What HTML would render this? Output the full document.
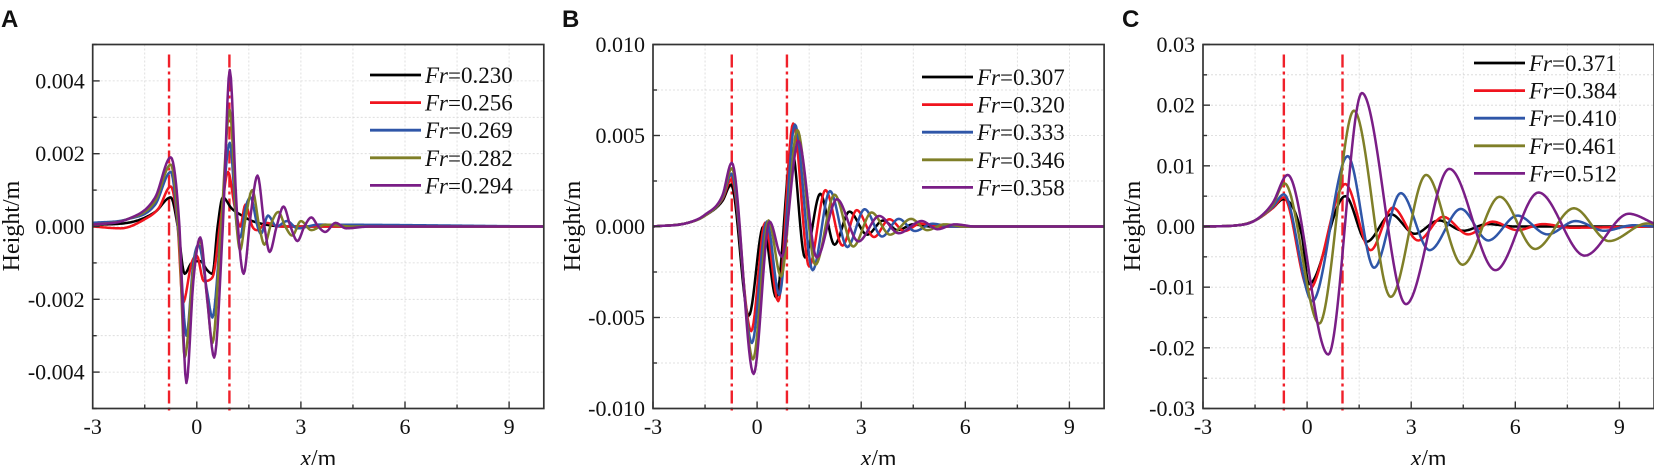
<!DOCTYPE html>
<html><head><meta charset="utf-8">
<style>
html,body{margin:0;padding:0;background:#fff;}
svg{display:block;}
text{font-family:"Liberation Serif",serif;fill:#111;}
.pl{font-family:"Liberation Sans",sans-serif;font-weight:bold;font-size:24px;}
</style></head>
<body>
<svg id="chart" width="1654" height="465" viewBox="0 0 1654 465"></svg>
<script>
// x-axis ticks
const xTickVals = [-3, 0, 3, 6, 9];
// Panel A (values in units of 0.001 m)
const A_fr = ["0.230", "0.256", "0.269", "0.282", "0.294"];
const A_yTicks = ["0.004", "0.002", "0.000", "-0.002", "-0.004"];
const A_black = [[-3,0.05],[-2,0.1],[-1.2,0.4],[-0.75,0.8],[-0.55,0],[-0.35,-1.3],[-0.15,-1.0],[0.1,-0.95],[0.3,-1.2],[0.45,-1.3],[0.6,0],[0.75,0.8],[1.0,0.5],[1.3,0.3],[1.6,0.15],[2,0.05],[2.5,0],[10,0]];
const A_red = [[-3,0],[-2.2,-0.05],[-1.5,0.2],[-1.1,0.5],[-0.75,1.1],[-0.55,0],[-0.4,-2.1],[-0.15,-1],[0,-0.8],[0.2,-1.5],[0.45,-1.4],[0.7,0.3],[0.9,1.5],[1.1,0.5],[1.25,0],[1.4,0.6],[1.6,0],[1.75,-0.1],[2.0,0.1],[2.4,0],[10,0]];
const A_blue = [[-3,0.1],[-2,0.2],[-1.2,0.6],[-0.75,1.5],[-0.5,-0.5],[-0.3,-3.0],[-0.1,-1.0],[0.05,-0.5],[0.3,-1.8],[0.45,-2.5],[0.7,0],[0.95,2.3],[1.15,0],[1.25,-0.3],[1.4,0.5],[1.55,0.8],[1.75,0],[1.85,-0.2],[2.05,0.3],[2.3,0],[2.6,0.15],[2.9,-0.05],[3.5,0.05],[10,0]];
const A_olive = [[-3,0.05],[-2,0.2],[-1.2,0.7],[-0.75,1.7],[-0.5,-0.5],[-0.35,-3.6],[-0.1,-1.2],[0.1,-0.4],[0.3,-2],[0.45,-3.2],[0.7,0],[0.95,3.2],[1.15,0],[1.25,-0.65],[1.4,0.2],[1.6,1.0],[1.8,0],[1.95,-0.5],[2.15,0.1],[2.35,0.4],[2.55,0],[2.75,-0.25],[3.0,0.15],[3.3,-0.1],[3.7,0.05],[4.5,0],[10,0]];
const A_purple = [[-3,0.05],[-2,0.2],[-1.2,0.8],[-0.75,1.9],[-0.5,0],[-0.3,-4.3],[-0.1,-1.5],[0.1,-0.3],[0.3,-2],[0.5,-3.6],[0.75,0],[0.95,4.3],[1.15,0.5],[1.35,-1.3],[1.55,0.3],[1.75,1.4],[1.95,0],[2.1,-0.7],[2.3,0],[2.5,0.55],[2.7,0],[2.9,-0.4],[3.1,0],[3.3,0.25],[3.5,0],[3.7,-0.15],[4.0,0.1],[4.3,-0.05],[5,0],[10,0]];
// Panel B (units of 0.001 m)
const B_fr = ["0.307", "0.320", "0.333", "0.346", "0.358"];
const B_yTicks = ["0.010", "0.005", "0.000", "-0.005", "-0.010"];
const B_black = [[-3,0],[-2,0.2],[-1.5,0.6],[-1,1.4],[-0.75,2.3],[-0.24,-4.9],[0.18,0],[0.55,-3.9],[1.0,4.3],[1.38,-1.7],[1.82,1.8],[2.23,-1.0],[2.66,0.82],[3.17,-0.45],[3.63,0.33],[4.05,-0.2],[4.5,0.12],[5,0],[10,0]];
const B_red = [[-3,0],[-2,0.2],[-1.5,0.6],[-1,1.5],[-0.74,2.6],[-0.17,-5.75],[0.23,0.2],[0.61,-4.1],[1.04,5.66],[1.5,-2.2],[1.97,2.0],[2.46,-1.05],[2.87,0.9],[3.37,-0.58],[3.81,0.4],[4.25,-0.25],[4.7,0.15],[5.3,0],[10,0]];
const B_blue = [[-3,0],[-2,0.2],[-1.5,0.6],[-1,1.55],[-0.74,2.9],[-0.15,-6.4],[0.28,0.27],[0.64,-3.75],[1.09,5.6],[1.6,-2.4],[2.1,1.95],[2.6,-1.13],[3.1,0.95],[3.6,-0.55],[4.08,0.42],[4.55,-0.25],[5.05,0.15],[5.6,0],[10,0]];
const B_olive = [[-3,0],[-2,0.2],[-1.5,0.6],[-1,1.6],[-0.73,3.2],[-0.12,-7.3],[0.33,0.33],[0.69,-2.75],[1.16,5.3],[1.68,-2.1],[2.23,1.75],[2.77,-1.1],[3.3,0.77],[3.83,-0.45],[4.44,0.42],[4.9,-0.2],[5.4,0.12],[6,0],[10,0]];
const B_purple = [[-3,0],[-2,0.2],[-1.5,0.65],[-1,1.7],[-0.73,3.5],[-0.1,-8.1],[0.36,0.27],[0.71,-1.65],[1.19,4.7],[1.72,-1.7],[2.3,1.5],[2.92,-0.82],[3.52,0.58],[4.08,-0.37],[4.74,0.3],[5.2,-0.15],[5.7,0.12],[6.3,0],[10,0]];
// Panel C (units of 0.01 m)
const C_fr = ["0.371", "0.384", "0.410", "0.461", "0.512"];
const C_yTicks = ["0.03", "0.02", "0.01", "0.00", "-0.01", "-0.02", "-0.03"];
const C_black = [[-3,0],[-2,0.02],[-1.5,0.1],[-1,0.3],[-0.68,0.45],[-0.15,-0.15],[0.05,-0.95],[1.1,0.5],[1.72,-0.25],[2.42,0.2],[3.1,-0.12],[3.8,0.1],[4.5,-0.07],[5.2,0.04],[6,0],[10,0]];
const C_red = [[-3,0],[-2,0.02],[-1.5,0.1],[-1,0.3],[-0.67,0.48],[0.05,-1.04],[1.1,0.7],[1.83,-0.39],[2.47,0.31],[3.2,-0.23],[3.92,0.16],[4.64,-0.13],[5.35,0.08],[6.06,-0.06],[6.8,0.04],[7.6,-0.02],[10,0]];
const C_blue = [[-3,0],[-2,0.02],[-1.5,0.1],[-1,0.32],[-0.67,0.53],[0.15,-1.23],[1.17,1.16],[1.93,-0.68],[2.7,0.55],[3.53,-0.39],[4.43,0.29],[5.22,-0.23],[6.06,0.18],[6.93,-0.13],[7.74,0.09],[8.56,-0.07],[9.4,0.02],[10,0]];
const C_olive = [[-3,0],[-2,0.02],[-1.5,0.1],[-1,0.35],[-0.65,0.71],[0.35,-1.6],[1.35,1.91],[2.41,-1.16],[3.43,0.85],[4.48,-0.63],[5.55,0.49],[6.57,-0.37],[7.69,0.3],[8.7,-0.24],[9.8,0.05],[10,0.04]];
const C_purple = [[-3,0],[-2,0.02],[-1.5,0.1],[-1,0.38],[-0.56,0.85],[0.61,-2.11],[1.58,2.2],[2.85,-1.28],[4.1,0.95],[5.43,-0.72],[6.67,0.56],[8.0,-0.48],[9.27,0.21],[10,0.05]];
// vertical reference lines (x positions, m)
const A_refs = [-0.8, 0.94];
const B_refs = [-0.73, 0.86];
const C_refs = [-0.67, 1.02];

const colors = ["#000000", "#f0141e", "#2f56a8", "#7f7f28", "#7a1e86"];
const NS = "http://www.w3.org/2000/svg";
const svg = document.getElementById("chart");
const SERIF = '"Liberation Serif", serif';

function mk(tag, attrs, parent) {
  const e = document.createElementNS(NS, tag);
  for (const k in attrs) e.setAttribute(k, attrs[k]);
  (parent || svg).appendChild(e);
  return e;
}

function monotonePath(pts, sx, sy) {
  const n = pts.length, d = [], m = [];
  for (let i = 0; i < n - 1; i++) d.push((pts[i+1][1]-pts[i][1])/(pts[i+1][0]-pts[i][0]));
  for (let i = 0; i < n; i++) {
    if (i === 0) m.push(d[0]); else if (i === n-1) m.push(d[n-2]);
    else if (d[i-1]*d[i] <= 0) m.push(0); else m.push((d[i-1]+d[i])/2);
  }
  for (let i = 0; i < n-1; i++) {
    if (d[i] === 0) { m[i] = 0; m[i+1] = 0; continue; }
    const a = m[i]/d[i], b = m[i+1]/d[i], s = a*a + b*b;
    if (s > 9) { const t = 3/Math.sqrt(s); m[i] = t*a*d[i]; m[i+1] = t*b*d[i]; }
  }
  let p = "M" + sx(pts[0][0]).toFixed(2) + "," + sy(pts[0][1]).toFixed(2);
  for (let i = 0; i < n-1; i++) {
    const x0 = pts[i][0], x1 = pts[i+1][0], h = x1 - x0, y0 = pts[i][1], y1 = pts[i+1][1];
    const steps = Math.max(6, Math.ceil(h*30));
    for (let k = 1; k <= steps; k++) {
      const t = k/steps, t2 = t*t, t3 = t2*t;
      const y = (2*t3-3*t2+1)*y0 + (t3-2*t2+t)*h*m[i] + (-2*t3+3*t2)*y1 + (t3-t2)*h*m[i+1];
      p += "L" + sx(x0 + t*h).toFixed(2) + "," + sy(y).toFixed(2);
    }
  }
  return p;
}

const TOP = 44.5, BOT = 408.5, UNIT = 34.7;

function panel(cfg) {
  const g = mk("g", {});
  
  
  const L = cfg.left, R = L + 13*UNIT;
  const sx = x => L + (x + 3)*UNIT;
  const sy = v => BOT - (v*cfg.scale - cfg.yMin)/(cfg.yMax - cfg.yMin)*(BOT - TOP);
  const syr = v => BOT - (v - cfg.yMin)/(cfg.yMax - cfg.yMin)*(BOT - TOP);
  for (let x = -1.5; x < 10; x += 1.5) {
    const gl = mk("line", {x1:sx(x), x2:sx(x), y1:TOP, y2:BOT, stroke:"#d8d8d8", "stroke-width":0.8, "stroke-dasharray":"2,2"}, g);
    
    
  }
  for (let v = cfg.yMin + cfg.minor; v < cfg.yMax - 1e-9; v += cfg.minor) {
    const gl = mk("line", {x1:L, x2:R, y1:syr(v), y2:syr(v), stroke:"#d8d8d8", "stroke-width":0.8, "stroke-dasharray":"2,2"}, g);
    
    
  }
  cfg.refs.forEach(r => {
    const rl = mk("line", {x1:sx(r), x2:sx(r), y1:TOP+10, y2:BOT+4, stroke:"#f0202a", "stroke-width":2.4, "stroke-dasharray":"13,4,3,4"}, g);
    
    
  });
  const cp = "clip-" + cfg.name;
  const cpe = mk("clipPath", {id: cp}, g);
  mk("rect", {x:L, y:TOP, width:R-L, height:BOT-TOP}, cpe);
  cfg.series.forEach((s, i) => {
    const path = mk("path", {d: monotonePath(s, sx, sy), fill:"none", stroke:colors[i], "stroke-width":2.5, "stroke-linejoin":"round", "clip-path":"url(#"+cp+")"}, g);
    
    
  });
  const fr = mk("rect", {x:L, y:TOP, width:R-L, height:BOT-TOP, fill:"none", stroke:"#333", "stroke-width":1.7}, g);
  
  
  for (let x = -3; x <= 10; x += 1.5) {
    const major = xTickVals.includes(x);
    mk("line", {x1:sx(x), x2:sx(x), y1:BOT, y2:BOT-(major?7:4), stroke:"#333", "stroke-width":1.4}, g);
  }
  xTickVals.forEach(x => {
    const t = mk("text", {x:sx(x), y:434, "font-size":22, "font-family":SERIF, "text-anchor":"middle"}, g);
    t.textContent = String(x);
    
    
  });
  for (let v = cfg.yMin; v <= cfg.yMax + 1e-9; v += cfg.minor) {
    const isMajor = Math.abs(Math.round(v/cfg.major)*cfg.major - v) < 1e-9;
    mk("line", {x1:L, x2:L+(isMajor?7:4), y1:syr(v), y2:syr(v), stroke:"#333", "stroke-width":1.4}, g);
  }
  cfg.yTicks.forEach(lbl => {
    const t = mk("text", {x:L-8, y:syr(parseFloat(lbl))+7.5, "font-size":22, "font-family":SERIF, "text-anchor":"end"}, g);
    t.textContent = lbl;
    
    
  });
  const yt = mk("text", {x:0, y:0, "font-size":24, "font-family":SERIF, "text-anchor":"middle", transform:"translate("+(cfg.ytx+9)+",226) rotate(-90)"}, g);
  yt.textContent = "Height/m";
  
  
  const xt = mk("text", {x:sx(3.5), y:466, "font-size":24, "font-family":SERIF, "text-anchor":"middle"}, g);
  xt.innerHTML = '<tspan font-style="italic">x</tspan>/m';
  
  
  const pl = mk("text", {x:cfg.lx, y:27, class:"pl"}, g);
  pl.textContent = cfg.letter;
  
  
  cfg.fr.forEach((f, i) => {
    const y = cfg.legY + i*27.6;
    const ll = mk("line", {x1:cfg.legX, x2:cfg.legX+51, y1:y, y2:y, stroke:colors[i], "stroke-width":2.8}, g);
    
    
    const t = mk("text", {x:cfg.legX+55, y:y+8, "font-size":23, "font-family":SERIF}, g);
    t.innerHTML = '<tspan font-style="italic">Fr</tspan>=' + f;
    
    
  });
}

panel({name:"panel-a", letter:"A", lx:1, left:92.7, yMin:-0.005, yMax:0.005, major:0.002, minor:0.001, scale:0.001,
  yTicks:A_yTicks, series:[A_black,A_red,A_blue,A_olive,A_purple], fr:A_fr, refs:A_refs, legX:370, legY:75, ytx:10});
panel({name:"panel-b", letter:"B", lx:562, left:653, yMin:-0.01, yMax:0.01, major:0.005, minor:0.0025, scale:0.001,
  yTicks:B_yTicks, series:[B_black,B_red,B_blue,B_olive,B_purple], fr:B_fr, refs:B_refs, legX:922, legY:77, ytx:571});
panel({name:"panel-c", letter:"C", lx:1122, left:1203, yMin:-0.03, yMax:0.03, major:0.01, minor:0.005, scale:0.01,
  yTicks:C_yTicks, series:[C_black,C_red,C_blue,C_olive,C_purple], fr:C_fr, refs:C_refs, legX:1474, legY:63, ytx:1131});
</script>
</body></html>
